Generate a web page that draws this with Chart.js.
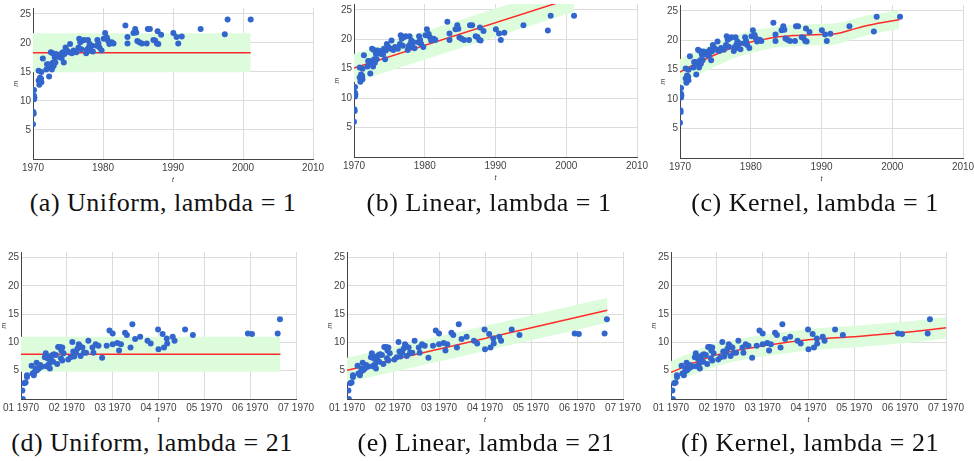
<!DOCTYPE html>
<html>
<head>
<meta charset="utf-8">
<script src="https://cdn.jsdelivr.net/npm/chart.js@4.4.0/dist/chart.umd.min.js"></script>
<style>
  html, body { margin: 0; padding: 0; background: #fff; }
  body { width: 974px; height: 461px; position: relative; overflow: hidden; }
  canvas { position: absolute; }
  .cap {
    position: absolute;
    transform: translateX(-50%);
    white-space: nowrap;
    font-family: 'Liberation Serif', 'DejaVu Serif', serif;
    font-size: 26px;
    letter-spacing: 0.5px;
    color: #111;
  }
</style>
</head>
<body>

<script>
// ---- data: top row (t in years) ----
const topT = [1970.0, 1970.05, 1970.1, 1970.15, 1970.15, 1970.15, 1970.2, 1970.8, 1970.8, 1970.9,
  1971.0, 1971.05, 1971.15, 1971.2, 1971.2, 1971.4, 1971.9, 1972.0, 1972.2, 1972.3,
  1972.45, 1972.55, 1972.7, 1972.8, 1972.85, 1972.95, 1973.1, 1973.2, 1973.3, 1973.5,
  1973.65, 1973.9, 1974.0, 1974.1, 1974.25, 1974.4, 1974.5, 1974.65, 1974.85, 1975.2,
  1975.3, 1975.55, 1975.8, 1976.2, 1976.5, 1976.6, 1976.75, 1976.9, 1977.1, 1977.3,
  1977.6, 1977.7, 1977.85, 1977.95, 1978.1, 1978.2, 1978.4, 1978.55, 1979.1, 1979.2,
  1979.35, 1979.5, 1979.8, 1980.1, 1980.3, 1980.55, 1980.7, 1980.9, 1981.25, 1981.5,
  1983.2, 1983.5, 1983.5, 1984.35, 1984.6, 1984.75, 1984.9, 1985.2, 1985.55, 1986.25,
  1986.4, 1986.7, 1987.2, 1987.45, 1987.7, 1987.8, 1987.9, 1988.3, 1990.05, 1990.5,
  1990.75, 1991.25, 1993.95, 1997.4, 1997.8, 2001.1];
const topM = [6.0, 8.1, 7.8, 11.9, 10.9, 10.3, 10.6, 13.5, 15.2, 12.8,
  14.0, 13.5, 13.8, 15.0, 13.2, 17.3, 15.4, 16.3, 16.3, 14.2,
  16.0, 18.4, 15.4, 18.2, 16.6, 16.0, 17.5, 16.6, 18.1, 17.6,
  17.9, 17.5, 18.1, 17.4, 18.4, 16.6, 18.1, 19.2, 18.7, 18.4,
  19.8, 18.2, 18.7, 18.4, 19.2, 20.7, 20.1, 18.9, 20.4, 20.5,
  18.2, 18.8, 20.5, 19.2, 19.8, 18.7, 19.5, 18.5, 19.5, 20.5,
  19.9, 19.2, 18.7, 20.7, 21.7, 20.9, 20.4, 19.8, 20.1, 19.9,
  23.0, 21.0, 19.9, 21.7, 22.4, 21.8, 20.3, 20.1, 19.9, 19.9,
  22.4, 22.4, 20.5, 20.4, 19.9, 22.0, 19.8, 21.4, 21.7, 21.0,
  19.9, 21.1, 22.4, 21.5, 24.0, 24.0];

// fits, top row
const topEnds = [1970, 2001.1];
const topUniformM = [18.3, 18.3];
const topUniformHalf = 3.35;
const topLinearM = [15.1, 27.1];
const topLinearHalf = 2.4;
const topKernelT = [1970, 1972, 1974, 1976, 1978, 1980, 1982, 1984, 1986, 1988, 1990, 1992, 1994, 1996, 1998, 2001];
const topKernelM = [14.6, 15.9, 17.0, 18.1, 19.0, 19.7, 20.2, 20.6, 20.8, 20.9, 21.0, 21.1, 21.7, 22.4, 22.9, 23.5];
const topKernelHalf = [2.2, 2.1, 2.0, 2.0, 1.9, 1.9, 1.8, 1.8, 1.8, 1.8, 1.8, 1.8, 1.7, 1.7, 1.6, 1.6];

// ---- data: bottom row (t in months) ----
const botT = [0.03, 0.04, 0.07, 0.1, 0.13, 0.13, 0.23, 0.25, 0.28, 0.3,
  0.32, 0.34, 0.35, 0.39, 0.42, 0.45, 0.52, 0.54, 0.55, 0.58,
  0.61, 0.63, 0.64, 0.66, 0.69, 0.7, 0.72, 0.76, 0.79, 0.81,
  0.85, 0.87, 0.88, 0.9, 0.9, 0.93, 1.03, 1.08, 1.12, 1.14,
  1.16, 1.2, 1.23, 1.26, 1.28, 1.3, 1.34, 1.37, 1.42, 1.47,
  1.56, 1.58, 1.63, 1.69, 1.77, 1.87, 1.93, 2.0, 2.0, 2.1,
  2.14, 2.18, 2.27, 2.31, 2.39, 2.43, 2.49, 2.6, 2.76, 2.83,
  2.99, 3.0, 3.09, 3.12, 3.18, 3.19, 3.31, 3.35, 3.58, 3.75,
  4.95, 5.04, 5.6, 5.65];
const botM = [1.5, 0.0, 2.8, 2.9, 4.2, 3.9, 5.9, 4.5, 4.2, 4.8,
  5.4, 6.4, 5.1, 5.4, 6.0, 5.7, 7.4, 8.1, 5.8, 7.2,
  6.2, 5.4, 7.5, 6.9, 7.8, 6.6, 7.9, 7.8, 6.2, 9.2,
  9.2, 7.2, 8.6, 9.1, 6.8, 8.1, 7.0, 7.4, 10.1, 8.4,
  7.5, 8.2, 8.9, 9.7, 9.4, 7.6, 9.1, 8.2, 8.2, 10.3,
  9.1, 8.2, 9.7, 9.4, 7.3, 9.4, 12.1, 11.6, 9.7, 9.9,
  8.6, 9.7, 11.7, 11.3, 9.1, 13.2, 10.6, 11.0, 10.3, 9.8,
  12.3, 8.8, 11.5, 9.1, 10.7, 9.8, 11.0, 10.3, 12.3, 11.3,
  11.6, 11.5, 11.6, 14.1];

// fits, bottom row
const botEnds = [0, 5.66];
const botUniformM = [7.9, 7.9];
const botUniformHalf = 3.1;
const botLinearM = [5.1, 15.7];
const botLinearHalf = 2.2;
const botKernelT = [0, 0.5, 1, 1.5, 2, 2.5, 3, 3.5, 4, 4.5, 5, 5.5, 6];
const botKernelM = [4.7, 6.4, 7.8, 8.7, 9.4, 10.0, 10.5, 10.8, 11.0, 11.35, 11.7, 12.1, 12.6];
const botKernelHalf = [2.0, 2.0, 2.0, 1.9, 1.9, 1.9, 1.9, 1.9, 1.9, 1.9, 1.9, 1.9, 1.9];

const yTicks = [0, 5, 10, 15, 20, 25];
const topXTicks = [1970, 1980, 1990, 2000, 2010];
const botXTicks = ['01 1970', '02 1970', '03 1970', '04 1970', '05 1970', '06 1970', '07 1970'];

const captions = [
  { txt: '(a) Uniform, lambda = 1',  x: 163, y: 188 },
  { txt: '(b) Linear, lambda = 1',   x: 489, y: 188 },
  { txt: '(c) Kernel, lambda = 1',   x: 815, y: 188 },
  { txt: '(d) Uniform, lambda = 21', x: 152, y: 428 },
  { txt: '(e) Linear, lambda = 21',  x: 486, y: 428 },
  { txt: '(f) Kernel, lambda = 21',  x: 810, y: 428 },
];

const BLUE = '#3366cc';
const RED = '#ff2a2a';
const GREEN = 'rgb(220,252,220)';
const TICKFONT = { family: "'Liberation Sans', Arial, sans-serif", size: 10 };

// --- layout of the plot areas (page px) ---
const YW = 34, PT = 6, PR = 26, XH = 26;

function pts(xs, ys) {
  return xs.map(function(x, i) { return { x: x, y: ys[i] }; });
}
function shift(ys, half, sign) {
  return ys.map(function(y, i) {
    const h = Array.isArray(half) ? half[i] : half;
    return y + sign * h;
  });
}

function fitDatasets(xs, ys, half, smooth) {
  const t = smooth ? 0.4 : 0;
  return [
    { data: pts(xs, ys), showLine: true, borderColor: RED, borderWidth: 1.5,
      pointRadius: 0, tension: t, fill: false },
    { data: pts(xs, shift(ys, half, 1)), showLine: true, borderWidth: 0, borderColor: 'transparent',
      pointRadius: 0, tension: t, fill: '+1', backgroundColor: GREEN },
    { data: pts(xs, shift(ys, half, -1)), showLine: true, borderWidth: 0, borderColor: 'transparent',
      pointRadius: 0, tension: t, fill: false }
  ];
}

function makeChart(box, xs, ys, fits, xCfg) {
  const c = document.createElement('canvas');
  const left = Math.round(box.left - YW);
  const top = Math.round(box.top - PT);
  const w = Math.round(box.right - box.left) + YW + PR;
  const h = Math.round(box.bottom - box.top) + PT + XH;
  c.width = w; c.height = h;
  c.style.left = left + 'px'; c.style.top = top + 'px';
  c.style.width = w + 'px'; c.style.height = h + 'px';
  document.body.appendChild(c);

  const scatter = { data: pts(xs, ys), backgroundColor: BLUE, borderColor: BLUE,
    pointRadius: 3, pointBorderWidth: 0, showLine: false };

  new Chart(c, {
    type: 'scatter',
    data: { datasets: [scatter].concat(fits) },
    options: {
      responsive: false,
      animation: false,
      layout: { padding: { top: PT, right: PR, left: 0, bottom: 0 } },
      plugins: { legend: { display: false }, tooltip: { enabled: false } },
      scales: {
        x: {
          type: 'linear',
          min: xCfg.min, max: xCfg.max,
          afterBuildTicks: function(s) {
            s.ticks = xCfg.ticks.map(function(v) { return { value: v }; });
          },
          afterFit: function(s) { s.height = XH; s.paddingLeft = 0; s.paddingRight = 0; },
          ticks: { font: TICKFONT, color: '#444', padding: 3, maxRotation: 0, autoSkip: false,
            callback: xCfg.label },
          grid: { color: '#dcdcdc', drawTicks: false },
          border: { color: '#444' },
          title: { display: true, text: 't', color: '#333', padding: { top: 0, bottom: 1 },
            font: { family: TICKFONT.family, size: 7, style: 'italic' } }
        },
        y: {
          min: 0, max: 26,
          afterBuildTicks: function(s) {
            s.ticks = yTicks.map(function(v) { return { value: v }; });
          },
          afterFit: function(s) { s.width = YW; s.paddingTop = 0; s.paddingBottom = 0; },
          ticks: { font: TICKFONT, color: '#444', padding: 2,
            callback: function(v) { return v === 0 ? '' : String(v); } },
          grid: { color: '#dcdcdc', drawTicks: false },
          border: { color: '#444' },
          title: { display: true, text: 'm', color: '#333', padding: { top: 13, bottom: 0 },
            font: { family: TICKFONT.family, size: 7, style: 'italic' } }
        }
      }
    }
  });
}

const topX = { min: 1970, max: 2010, ticks: topXTicks, label: function(v) { return String(v); } };
const botX = { min: 0, max: 6, ticks: [0, 1, 2, 3, 4, 5, 6], label: function(v) { return botXTicks[v]; } };

// (a) (b) (c)
makeChart({ left: 33, right: 313, top: 7.5, bottom: 158 }, topT, topM,
  fitDatasets(topEnds, topUniformM, topUniformHalf, false), topX);
makeChart({ left: 354, right: 637, top: 4, bottom: 157 }, topT, topM,
  fitDatasets(topEnds, topLinearM, topLinearHalf, false), topX);
makeChart({ left: 680, right: 963, top: 5, bottom: 158 }, topT, topM,
  fitDatasets(topKernelT, topKernelM, topKernelHalf, true), topX);

// (d) (e) (f)
makeChart({ left: 21, right: 296, top: 252, bottom: 399 }, botT, botM,
  fitDatasets(botEnds, botUniformM, botUniformHalf, false), botX);
makeChart({ left: 347, right: 623, top: 252, bottom: 399 }, botT, botM,
  fitDatasets(botEnds, botLinearM, botLinearHalf, false), botX);
makeChart({ left: 671, right: 946, top: 252, bottom: 399 }, botT, botM,
  fitDatasets(botKernelT, botKernelM, botKernelHalf, true), botX);

captions.forEach(function(cp) {
  const d = document.createElement('div');
  d.className = 'cap';
  d.textContent = cp.txt;
  d.style.left = cp.x + 'px';
  d.style.top = cp.y + 'px';
  document.body.appendChild(d);
});
</script>
</body>
</html>
